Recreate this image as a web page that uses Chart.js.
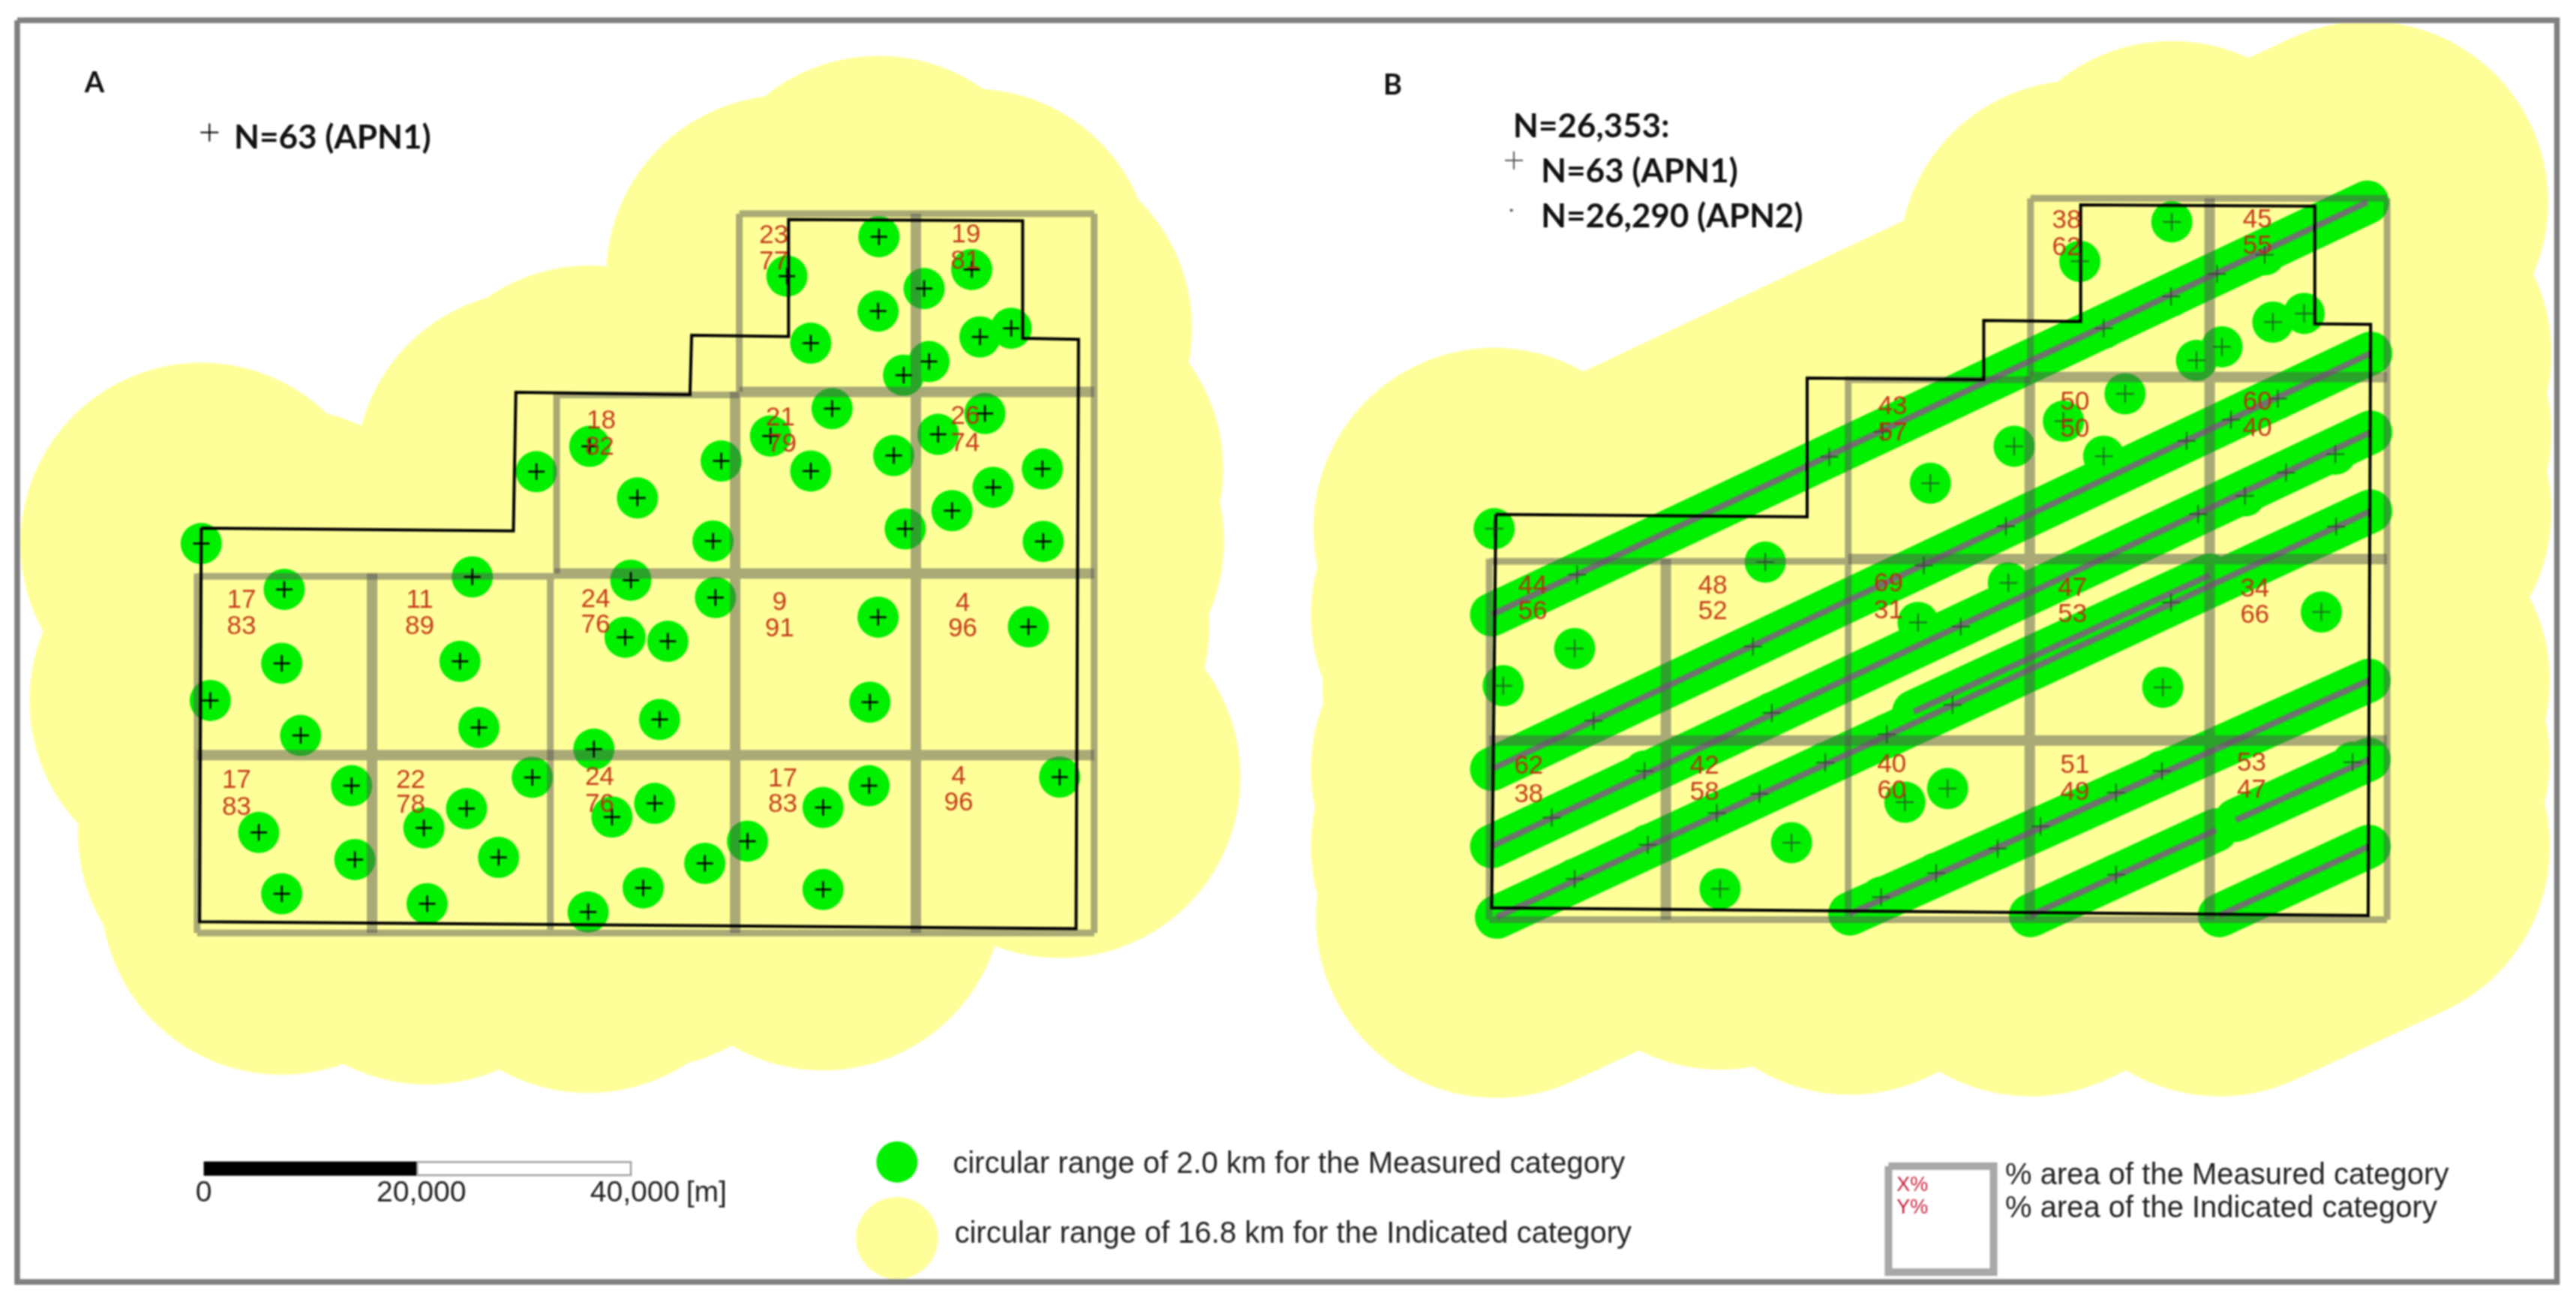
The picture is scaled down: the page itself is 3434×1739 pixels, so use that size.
<!DOCTYPE html>
<html><head><meta charset="utf-8">
<style>html,body{margin:0;padding:0;background:#fff}canvas{display:block;filter:blur(0.8px)}</style>
<script src="https://cdn.jsdelivr.net/npm/chart.js@4/dist/chart.umd.min.js"></script>
</head><body><canvas id="c" width="3434" height="1739"></canvas>
<script>
// Map coordinates (x, y) of the sampling holes and lines
const holesA=[[535,144],[479,168],[591.5,164],[562.5,175.6],[534.5,189.3],[493.5,208.8],[596.5,205],[615.5,199.7],[565.5,220],[550,228.3],[506.5,248.6],[599.5,251.6],[571,264.3],[469,265.3],[359,271.6],[326.5,287],[439,280.5],[493.5,286.6],[544,277.2],[634.5,285.3],[604.5,296.5],[579.5,310.7],[388,303],[551,321.8],[434,329.2],[635,329.4],[122.5,330.7],[384,353],[287.5,351],[173,358.6],[435.5,363.6],[534.5,375.5],[626,381.4],[380.5,387.7],[406.5,390.2],[171.5,403.6],[280,402.4],[128,426.2],[529.5,427.2],[401.5,437.8],[183,447.5],[291.5,442.7],[361.5,455.8],[324,473],[214,478.1],[529,478.1],[645,472.8],[284,492],[398.5,488.8],[501,491.3],[372.5,497.1],[258,503.7],[157.5,506.5],[455,511.8],[429,525.3],[303.5,521.7],[216,523],[391.5,540.2],[171.5,543.8],[501,541.2],[260,549.8],[358,554.9]];
const holesB=[[1322,135],[1266,159],[1378.5,155],[1349.5,166.6],[1321.5,180.3],[1280.5,199.8],[1383.5,196],[1402.5,190.7],[1352.5,211],[1337,219.3],[1293.5,239.6],[1386.5,242.6],[1358,255.3],[1256,256.3],[1146,262.6],[1113.5,278],[1226,271.5],[1280.5,277.6],[1331,268.2],[1421.5,276.3],[1391.5,287.5],[1366.5,301.7],[1175,294],[1338,312.8],[1221,320.2],[1422,320.4],[909.5,321.7],[1171,344],[1074.5,342],[960,349.6],[1222.5,354.6],[1321.5,366.5],[1413,372.4],[1167.5,378.7],[1193.5,381.2],[958.5,394.6],[1067,393.4],[915,417.2],[1316.5,418.2],[1188.5,428.8],[970,438.5],[1078.5,433.7],[1148.5,446.8],[1111,464],[1001,469.1],[1316,469.1],[1432,463.8],[1071,483],[1185.5,479.8],[1288,482.3],[1159.5,488.1],[1045,494.7],[944.5,497.5],[1242,502.8],[1216,516.3],[1090.5,512.7],[1003,514],[1178.5,531.2],[958.5,534.8],[1288,532.2],[1047,540.8],[1145,545.9]];
const transectsB=[[[1441,123],[908,374]],[[1443,215],[908,468]],[[1443,263],[908,515]],[[1443,311],[911,558]],[[1442,414],[1126,556]],[[1442,462],[1361,499]],[[1349,505],[1236,557]],[[1442,515],[1351,557]],[[1345,350],[1165,433]]];
const boundaryA=[[122.5,321.3],[312.5,323],[314,238.7],[420,240.2],[421,204],[480,204.8],[480,133.5],[622.5,134.3],[622.5,205.8],[656.5,206.5],[655,565],[121.5,560.8],[122.5,321.3]];
const boundaryB=[[910.5,313],[1100,314.5],[1100,230],[1207.5,231],[1207.5,195],[1266.5,195.6],[1266.5,124.7],[1409,125.4],[1409,197],[1443,197.4],[1441.5,557],[908,552.4],[910.5,313]];
const gridBands=[
 [[450,238.5],[666,238.5]],[[337.5,349],[666,349]],[[120,459.4],[666,459.4]],[[226.5,349],[226.5,567.6]],[[447.5,238.5],[447.5,567.6]],[[557.5,130],[557.5,567.6]],
 [[1236,229.4],[1453,229.4]],[[1125,340.2],[1453,340.2]],[[906.5,450.5],[1453,450.5]],[[1014,340],[1014,559.5]],[[1235.5,229],[1235.5,559.5]],[[1345,120.6],[1345,559.5]]];
const gridRims=[
 [[450,130],[666,130]],[[120,567.6],[666,567.6]],[[337.5,240.3],[450,240.3]],[[120,350.7],[337.5,350.7]],[[120,349],[120,567.6]],[[666,130],[666,567.6]],[[450,130],[450,238.5]],[[338.8,240],[338.8,349]],[[335,349],[335,567.6]],
 [[1236,120.6],[1453,120.6]],[[906.5,559.5],[1453,559.5]],[[1125,231],[1236,231]],[[906.5,341.5],[1125,341.5]],[[906.5,340],[906.5,559.5]],[[1453,120.6],[1453,559.5]],[[1236,120.6],[1236,229]],[[1125,229],[1125,559.5]]];
const cellLabelsA=[[471,143.7,'23'],[471,159.6,'77'],[588,143,'19'],[587.5,159,'81'],[366,256.4,'18'],[365,272.4,'82'],[475,254.7,'21'],[476,270.6,'79'],[587.5,253.4,'26'],[587.5,270,'74'],[147,365.4,'17'],[147,381.4,'83'],[255.5,365.4,'11'],[255.5,381.4,'89'],[362.5,365,'24'],[362.5,380.6,'76'],[474.5,367,'9'],[474.5,382.6,'91'],[586,367.4,'4'],[586,383,'96'],[144,475,'17'],[144,491.6,'83'],[250,474.8,'22'],[250,490.3,'78'],[365,473.3,'24'],[365,489.8,'76'],[476.5,474,'17'],[476.5,489.8,'83'],[583.5,472.8,'4'],[583.5,488.5,'96']];
const cellLabelsB=[[1258,134.3,'38'],[1258,150.8,'62'],[1374,133.8,'45'],[1374,150,'55'],[1152,247.6,'43'],[1152,263.5,'57'],[1263,245,'50'],[1263,261.5,'50'],[1374,245,'60'],[1374,261,'40'],[933,356.8,'44'],[933,372.5,'56'],[1042.5,356.8,'48'],[1042.5,372.5,'52'],[1149.5,355.3,'69'],[1149.5,372,'31'],[1261.5,358,'47'],[1261.5,374.3,'53'],[1372.5,358.6,'34'],[1372.5,374.5,'66'],[930.5,466.2,'62'],[930.5,483.5,'38'],[1037.5,466.2,'42'],[1037.5,482.4,'58'],[1151.5,465.2,'40'],[1151.5,481.4,'60'],[1263,465.7,'51'],[1263,482.2,'49'],[1370.5,464.5,'53'],[1370.5,481,'47']];
const frame=[[10.5,12.3],[1556.4,12.3],[1556.4,780],[10.5,780],[10.5,12.3]];
const scaleBlack=[[124,711],[254,711]];
const scaleWhite=[[254,707],[384,707],[384,715],[254,715],[254,707]];
const legendBox=[[1149.5,709.5],[1213.5,709.5],[1213.5,774],[1149.5,774],[1149.5,709.5]];
const legendGreen=[[546,707]];
const legendYellow=[[546,753.3]];
const legendPlusA=[[127.5,80.6]];
const legendPlusB=[[921.5,97.6]];
const legendDotB=[[920,128]];
const panelLetters=[['A',51.5,50.7],['B',842,52]];
const headingTexts=[['N=63 (APN1)',142.5,84],['N=26,353:',921,77],['N=63 (APN1)',938,104.5],['N=26,290 (APN2)',938,132]];
const legendTexts=[['circular range of 2.0 km for the Measured category',580,708.5],['circular range of 16.8 km for the Indicated category',581,751],['% area of the Measured category',1220.5,715.5],['% area of the Indicated category',1220.5,735.5]];
const scaleTexts=[['0',124,726],['20,000',256.5,726],['40,000',386.5,726],['[m]',430,726]];
const legendBoxTexts=[['X%',1164,721],['Y%',1164,735]];

const YELLOW='#FFFF99',GREEN='#00F000',GRID='rgba(85,85,85,0.5)',RED='rgba(190,40,15,0.9)';
const FRAME_CLIP={left:-26,top:-31,right:-29,bottom:-35};
const pts=a=>a.map(([x,y])=>({x,y}));
const joined=segs=>segs.flatMap(s=>[...s,[null,null]]);
let layer=1000;
const sets=[];
function line(a,color,width,cap,clip){sets.push({data:pts(a),showLine:true,borderColor:color,borderWidth:width,borderCapStyle:cap||'butt',borderJoinStyle:'miter',pointRadius:0,tension:0,fill:false,order:layer--,clip:clip===undefined?0:clip});}
function dots(a,color,r,clip){sets.push({data:pts(a),showLine:false,pointStyle:'circle',pointRadius:r,pointBackgroundColor:color,pointBorderWidth:0,order:layer--,clip:clip===undefined?0:clip});}
function plus(a,color,r,w){sets.push({data:pts(a),showLine:false,pointStyle:'cross',pointRadius:r,pointBorderColor:color,pointBorderWidth:w,order:layer--,clip:0});}

// yellow 16.8 km range
dots(holesA,YELLOW,241,FRAME_CLIP);
dots(holesB,YELLOW,241,FRAME_CLIP);
transectsB.forEach(t=>line(t,YELLOW,482,'round',FRAME_CLIP));
// green 2.0 km range
dots(holesA,GREEN,27.5);
dots(holesB,GREEN,27.5);
transectsB.forEach(t=>line(t,GREEN,58,'round'));
transectsB.forEach(t=>line(t,'#6E736E',8));
// block grid
line(joined(gridRims),GRID,9);
line(joined(gridBands),GRID,14);
// boundaries
line(boundaryA,'#000',4);
line(boundaryB,'#000',4);
// hole markers
plus(holesA,'#000',11,2.5);
plus(holesB,'rgba(40,60,40,0.75)',12,2);
// legend marks
plus(legendPlusA,'#000',12,2);
plus(legendPlusB,'#555',12,2);
dots(legendDotB,'#555',2);
dots(legendGreen,GREEN,27.5);
dots(legendYellow,YELLOW,54.7);
line(scaleBlack,'#000',19);
line(scaleWhite,'#A0A0A0',2.5);
line(legendBox,'#A8A8A8',10);
line(frame,'#808080',7.5);

const textPlugin={id:'mapText',afterDatasetsDraw(chart){
  const {ctx,scales:{x,y}}=chart;
  const put=(t,px,py,font,color,align)=>{ctx.font=font;ctx.fillStyle=color;ctx.textAlign=align||'left';ctx.textBaseline='middle';ctx.fillText(t,x.getPixelForValue(px),y.getPixelForValue(py));};
  ctx.save();
  cellLabelsA.concat(cellLabelsB).forEach(([px,py,t])=>put(t,px,py,'35px "Liberation Sans"',RED,'center'));
  panelLetters.forEach(([t,px,py])=>put(t,px,py,'bold 38px Lato','#111'));
  headingTexts.forEach(([t,px,py])=>put(t,px,py,'bold 44px Lato','#111'));
  legendTexts.forEach(([t,px,py])=>put(t,px,py,'40px "Liberation Sans"','#222'));
  scaleTexts.forEach(([t,px,py])=>put(t,px,py,'39px "Liberation Sans"','#222','center'));
  legendBoxTexts.forEach(([t,px,py])=>put(t,px,py,'27px "Liberation Sans"','#C8203A','center'));
  ctx.restore();
}};

new Chart(document.getElementById('c'),{type:'scatter',data:{datasets:sets},plugins:[textPlugin],options:{
  responsive:false,animation:false,devicePixelRatio:1,events:[],
  layout:{autoPadding:false,padding:0},
  plugins:{legend:{display:false},tooltip:{enabled:false},title:{display:false}},
  scales:{x:{type:'linear',min:0,max:1568,display:false},y:{type:'linear',min:0,max:794,reverse:true,display:false}}
}});
</script></body></html>
